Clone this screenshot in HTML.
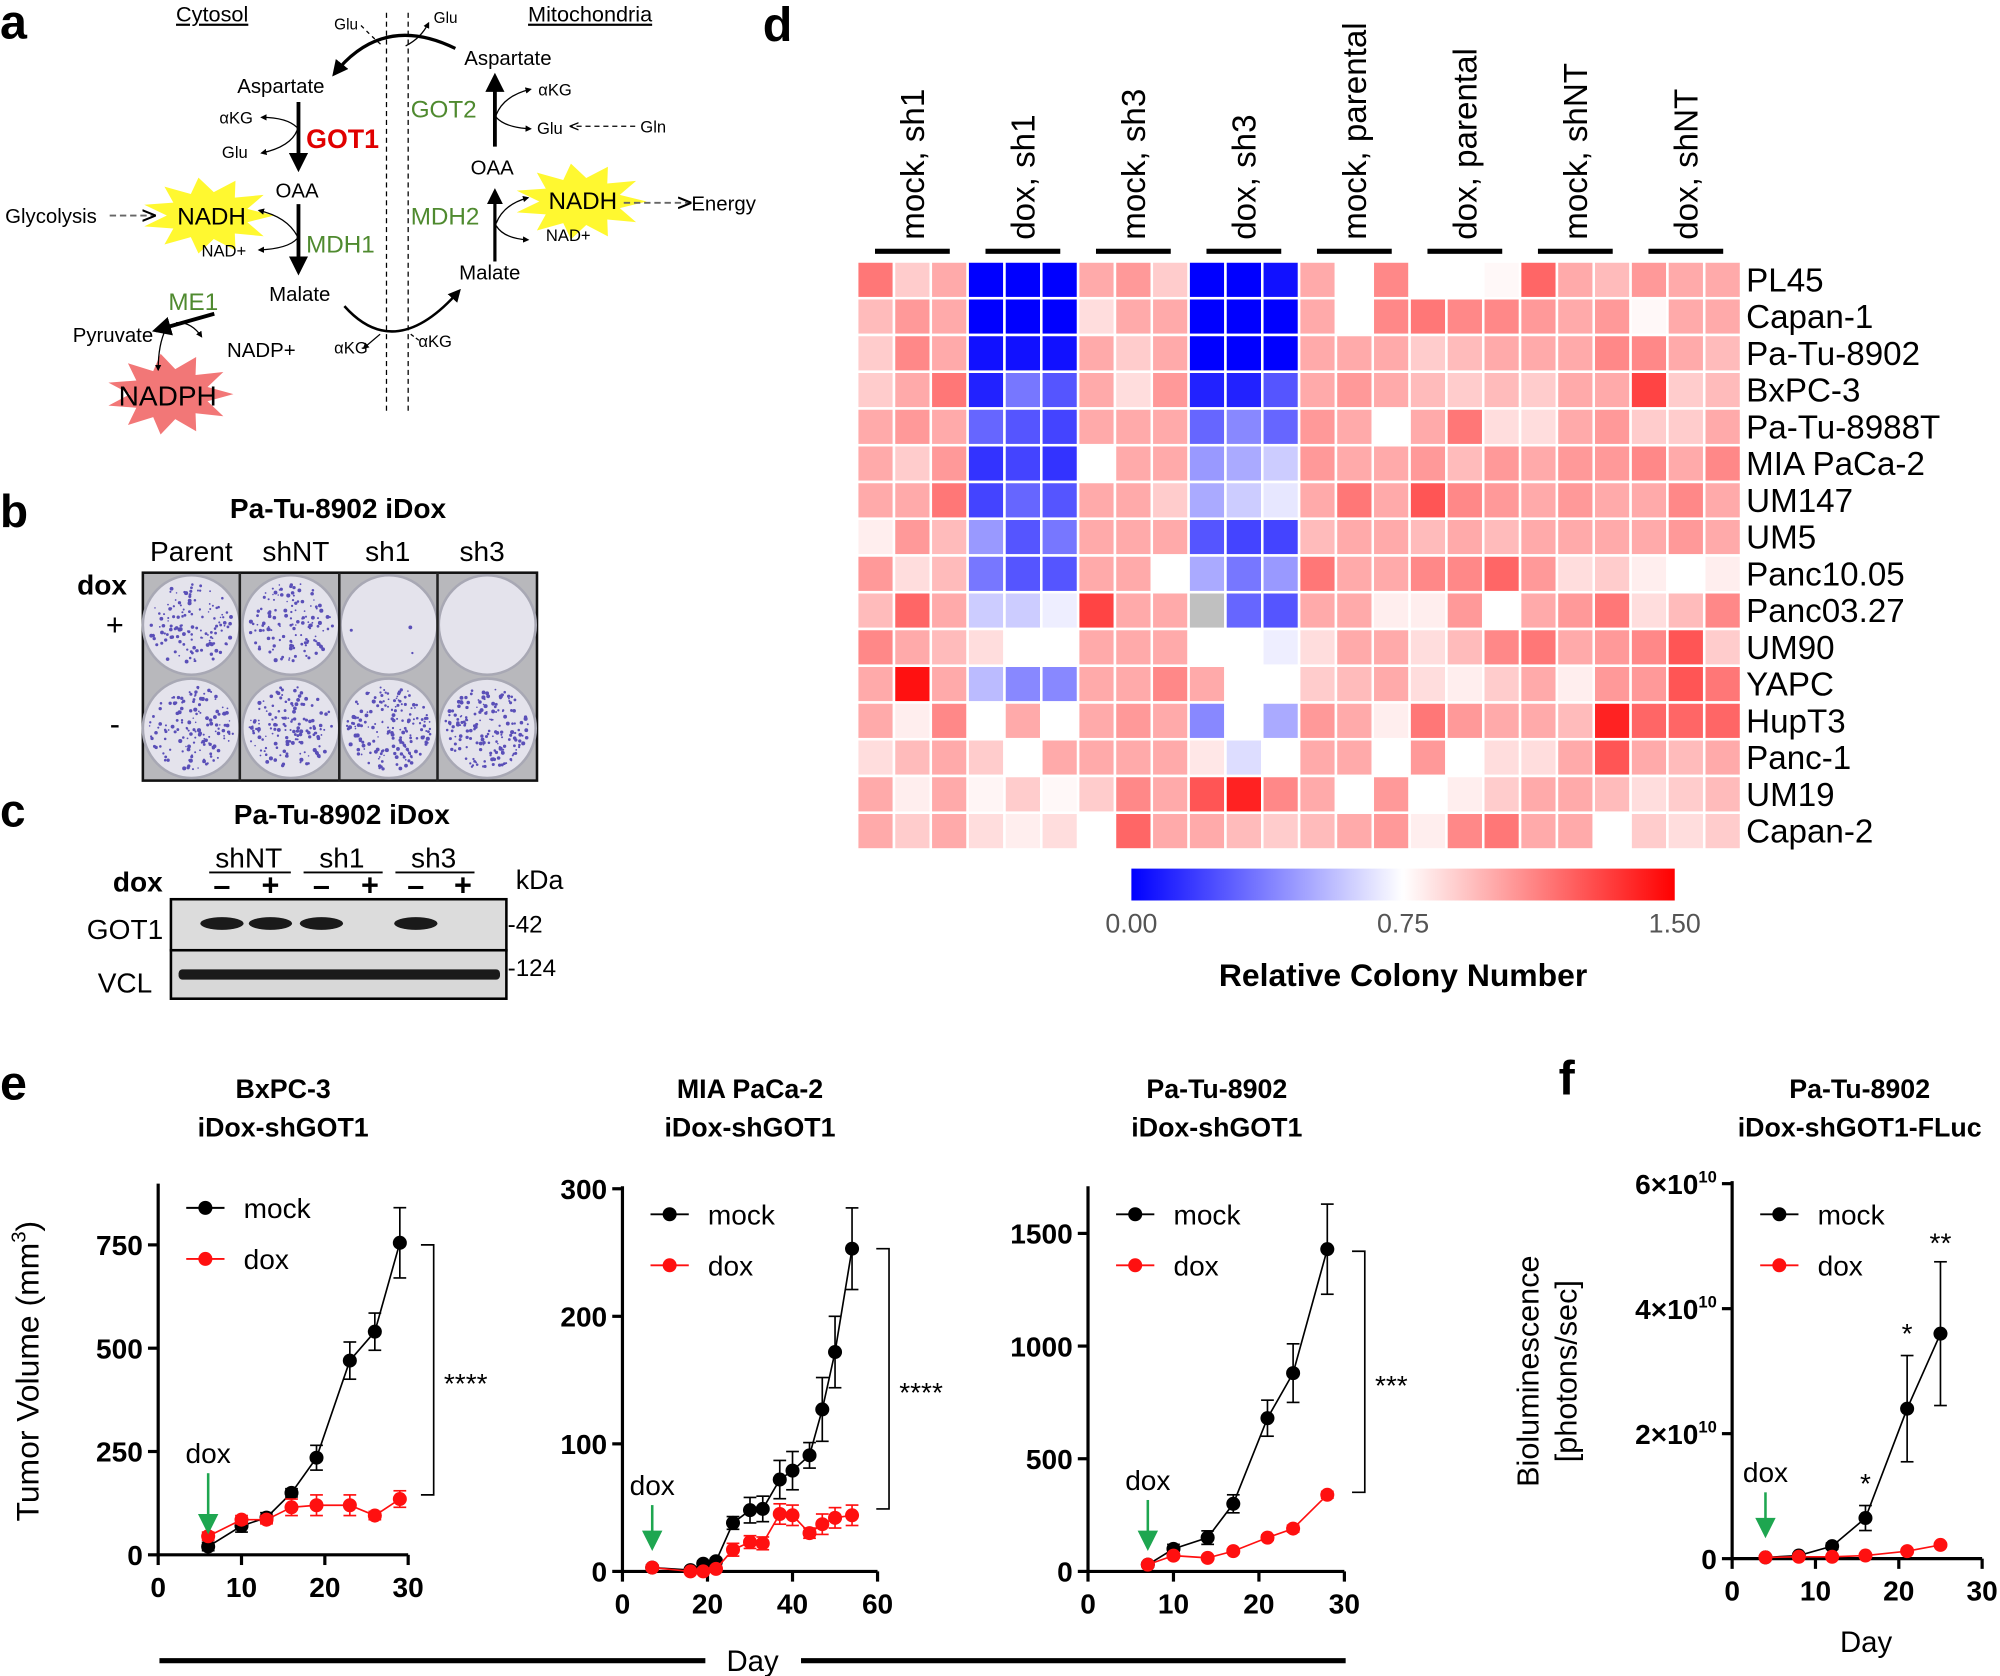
<!DOCTYPE html>
<html><head><meta charset="utf-8"><style>
html,body{margin:0;padding:0;background:#fff;}
svg{display:block;font-family:"Liberation Sans",Arial,sans-serif;}
.b{font-weight:bold;}
</style></head><body>
<svg id="fig" xmlns="http://www.w3.org/2000/svg" width="2000" height="1676" viewBox="0 0 1568 1314">
<defs>
<marker id="ah" viewBox="0 0 10 10" refX="8" refY="5" markerWidth="5" markerHeight="5" orient="auto"><path d="M0,0 L10,5 L0,10 z" fill="#000"/></marker>
<marker id="ahs" viewBox="0 0 10 10" refX="8" refY="5" markerWidth="7" markerHeight="7" orient="auto"><path d="M0,1 L10,5 L0,9" fill="none" stroke="#000" stroke-width="1.5"/></marker>
</defs>
<g id="panel-a">
<text x="0" y="30" font-size="38" class="b">a</text>
<text x="138" y="17" font-size="17" text-decoration="underline">Cytosol</text>
<text x="414" y="17" font-size="17" text-decoration="underline">Mitochondria</text>
<line x1="303" y1="10" x2="303" y2="325" stroke="#000" stroke-dasharray="4,3" stroke-width="1"/>
<line x1="320" y1="10" x2="320" y2="325" stroke="#000" stroke-dasharray="4,3" stroke-width="1"/>
<g id="stars"></g>
<path d="M357,38 Q300,10 262,58" fill="none" stroke="#000" stroke-width="2.5" marker-end="url(#ah)"/>
<path d="M283,20 Q295,32 300,36" fill="none" stroke="#000" stroke-dasharray="3,3"/>
<path d="M318,36 Q330,30 336,18" fill="none" stroke="#000" marker-end="url(#ah)"/>
<text x="262" y="23" font-size="12">Glu</text><text x="340" y="18" font-size="12">Glu</text>
<text x="364" y="51" font-size="16">Aspartate</text>
<text x="186" y="73" font-size="16">Aspartate</text>
<line x1="234" y1="80" x2="234" y2="132" stroke="#000" stroke-width="3" marker-end="url(#ah)"/>
<path d="M233,100 Q225,92 205,92" fill="none" stroke="#000" marker-end="url(#ah)"/>
<path d="M233,102 Q228,115 205,120" fill="none" stroke="#000" marker-end="url(#ah)"/>
<text x="172" y="97" font-size="13">αKG</text><text x="174" y="124" font-size="13">Glu</text>
<text x="240" y="116" font-size="21" class="b" fill="#e00000">GOT1</text>
<text x="216" y="155" font-size="16">OAA</text>
<line x1="234" y1="160" x2="234" y2="213" stroke="#000" stroke-width="3" marker-end="url(#ah)"/>
<path d="M233,185 Q225,170 203,165" fill="none" stroke="#000" marker-end="url(#ah)"/>
<path d="M233,187 Q226,195 203,196" fill="none" stroke="#000" marker-end="url(#ah)"/>
<text x="139" y="176" font-size="19">NADH</text>
<text x="158" y="201" font-size="13">NAD+</text>
<text x="240" y="198" font-size="19" fill="#4f8a2f">MDH1</text>
<text x="4" y="175" font-size="16">Glycolysis</text>
<line x1="86" y1="169" x2="120" y2="169" stroke="#666" stroke-width="1.5" stroke-dasharray="5,3" marker-end="url(#ahs)"/>
<text x="211" y="236" font-size="16">Malate</text>
<text x="132" y="243" font-size="19" fill="#4f8a2f">ME1</text>
<line x1="168" y1="246" x2="122" y2="259" stroke="#000" stroke-width="3" marker-end="url(#ah)"/>
<path d="M138,253 Q150,252 158,264" fill="none" stroke="#000" marker-end="url(#ah)"/>
<path d="M130,258 Q124,270 124,290" fill="none" stroke="#000" marker-end="url(#ah)"/>
<text x="57" y="268" font-size="16">Pyruvate</text>
<text x="178" y="280" font-size="16">NADP+</text>
<text x="93" y="318" font-size="22">NADPH</text>
<path d="M270,240 Q310,285 360,228" fill="none" stroke="#000" stroke-width="2" marker-end="url(#ah)"/>
<line x1="298" y1="262" x2="285" y2="273" stroke="#000" marker-end="url(#ah)"/>
<line x1="322" y1="262" x2="330" y2="268" stroke="#000" stroke-dasharray="3,2"/>
<text x="262" y="277" font-size="13">αKG</text><text x="328" y="272" font-size="13">αKG</text>
<text x="360" y="219" font-size="16">Malate</text>
<line x1="388" y1="205" x2="388" y2="150" stroke="#000" stroke-width="2.5" marker-end="url(#ah)"/>
<text x="369" y="137" font-size="16">OAA</text>
<line x1="388" y1="115" x2="388" y2="60" stroke="#000" stroke-width="3" marker-end="url(#ah)"/>
<text x="322" y="92" font-size="19" fill="#4f8a2f">GOT2</text>
<path d="M389,90 Q395,75 416,70" fill="none" stroke="#000" marker-end="url(#ah)"/>
<path d="M389,92 Q396,100 416,101" fill="none" stroke="#000" marker-end="url(#ah)"/>
<text x="422" y="75" font-size="13">αKG</text><text x="421" y="105" font-size="13">Glu</text>
<line x1="498" y1="99" x2="448" y2="99" stroke="#000" stroke-dasharray="4,3" marker-end="url(#ahs)"/>
<text x="502" y="104" font-size="13">Gln</text>
<text x="322" y="176" font-size="19" fill="#4f8a2f">MDH2</text>
<path d="M389,175 Q395,160 414,155" fill="none" stroke="#000" marker-end="url(#ah)"/>
<path d="M389,177 Q395,187 414,188" fill="none" stroke="#000" marker-end="url(#ah)"/>
<text x="430" y="164" font-size="19">NADH</text>
<text x="428" y="189" font-size="13">NAD+</text>
<line x1="489" y1="159" x2="540" y2="159" stroke="#666" stroke-width="1.5" stroke-dasharray="5,3" marker-end="url(#ahs)"/>
<text x="542" y="165" font-size="16">Energy</text>
</g>
<g id="panel-b">
<text x="0" y="413" font-size="36" class="b">b</text>
<text x="265" y="406" font-size="22" class="b" text-anchor="middle">Pa-Tu-8902 iDox</text>
<text x="150" y="440" font-size="22" text-anchor="middle">Parent</text>
<text x="232" y="440" font-size="22" text-anchor="middle">shNT</text>
<text x="304" y="440" font-size="22" text-anchor="middle">sh1</text>
<text x="378" y="440" font-size="22" text-anchor="middle">sh3</text>
<text x="80" y="466" font-size="22" class="b" text-anchor="middle">dox</text>
<text x="90" y="498" font-size="24" text-anchor="middle">+</text>
<text x="90" y="576" font-size="24" text-anchor="middle">-</text>
<rect x="112" y="449" width="309" height="163" fill="#b8b8bc" stroke="#111" stroke-width="2"/>
<g id="wells"></g>
</g>
<g id="panel-c">
<text x="0" y="648" font-size="36" class="b">c</text>
<text x="268" y="646" font-size="22" class="b" text-anchor="middle">Pa-Tu-8902 iDox</text>
<text x="195" y="680" font-size="22" text-anchor="middle">shNT</text>
<text x="268" y="680" font-size="22" text-anchor="middle">sh1</text>
<text x="340" y="680" font-size="22" text-anchor="middle">sh3</text>
<line x1="164" y1="684" x2="228" y2="684" stroke="#000" stroke-width="1.5"/>
<line x1="238" y1="684" x2="300" y2="684" stroke="#000" stroke-width="1.5"/>
<line x1="310" y1="684" x2="372" y2="684" stroke="#000" stroke-width="1.5"/>
<text x="108" y="699" font-size="22" class="b" text-anchor="middle">dox</text>
<g font-size="24" class="b" text-anchor="middle"><text x="174" y="702">–</text><text x="212" y="702">+</text><text x="252" y="702">–</text><text x="290" y="702">+</text><text x="326" y="702">–</text><text x="363" y="702">+</text></g>
<text x="423" y="697" font-size="21" text-anchor="middle">kDa</text>
<rect x="134" y="705" width="263" height="40" fill="#dcdcdc" stroke="#000" stroke-width="2"/>
<rect x="134" y="745" width="263" height="38" fill="#d8d8d8" stroke="#000" stroke-width="2"/>
<g fill="#1a1a1a"><ellipse cx="174" cy="724" rx="17" ry="5"/><ellipse cx="212" cy="724" rx="17" ry="5"/><ellipse cx="252" cy="724" rx="17" ry="5"/><ellipse cx="326" cy="724" rx="17" ry="5"/>
<rect x="140" y="760" width="252" height="8" rx="3"/></g>
<text x="98" y="736" font-size="22" text-anchor="middle">GOT1</text>
<text x="98" y="778" font-size="22" text-anchor="middle">VCL</text>
<text x="398" y="731" font-size="19">-42</text>
<text x="398" y="765" font-size="19">-124</text>
</g>
<g id="panel-d">
<text x="598" y="32" font-size="38" class="b">d</text>
<g id="heatmap"></g>
<defs><linearGradient id="cbg" x1="0" x2="1"><stop offset="0" stop-color="#0000ff"/><stop offset="0.5" stop-color="#ffffff"/><stop offset="1" stop-color="#ff0000"/></linearGradient></defs>
<rect x="887" y="681" width="426" height="25" fill="url(#cbg)"/>
<text x="887" y="731" font-size="21" fill="#555" text-anchor="middle">0.00</text>
<text x="1100" y="731" font-size="21" fill="#555" text-anchor="middle">0.75</text>
<text x="1313" y="731" font-size="21" fill="#555" text-anchor="middle">1.50</text>
<text x="1100" y="773" font-size="25" class="b" text-anchor="middle">Relative Colony Number</text>
</g>
<text x="0" y="862" font-size="38" class="b">e</text>
<text x="1222" y="858" font-size="38" class="b">f</text>
<g id="plots"></g>
<text x="30" y="1075" font-size="25" text-anchor="middle" transform="rotate(-90 30 1075)">Tumor Volume (mm<tspan dy="-10" font-size="16">3</tspan><tspan dy="10">)</tspan></text>
<text x="1206" y="1075" font-size="24" text-anchor="middle" transform="rotate(-90 1206 1075)">Bioluminescence</text>
<text x="1236" y="1075" font-size="24" text-anchor="middle" transform="rotate(-90 1236 1075)">[photons/sec]</text>
<line x1="125" y1="1302" x2="553" y2="1302" stroke="#000" stroke-width="4"/>
<line x1="628" y1="1302" x2="1055" y2="1302" stroke="#000" stroke-width="4"/>
<text x="590" y="1310" font-size="23" text-anchor="middle">Day</text>
<text x="1463" y="1295" font-size="23" text-anchor="middle">Day</text>
</svg>
<script>
const hmRows=["PL45","Capan-1","Pa-Tu-8902","BxPC-3","Pa-Tu-8988T","MIA PaCa-2","UM147","UM5","Panc10.05","Panc03.27","UM90","YAPC","HupT3","Panc-1","UM19","Capan-2"];
const hmGroups=["mock, sh1","dox, sh1","mock, sh3","dox, sh3","mock, parental","dox, parental","mock, shNT","dox, shNT"];
const hmValues=[
[1.15,0.9,1.0,0,0,0,1.0,1.05,0.9,0,0,0.05,1.0,0.75,1.1,0.75,0.75,0.77,1.2,1.0,0.95,1.05,1.0,1.0],
[0.95,1.05,1.0,0,0,0,0.85,1.0,1.0,0,0,0,1.0,0.75,1.1,1.15,1.1,1.1,1.05,1.0,1.05,0.77,1.0,1.0],
[0.9,1.1,1.0,0.05,0.05,0.05,1.0,0.9,1.0,0,0,0,1.0,1.0,1.0,0.9,0.95,1.0,1.0,1.0,1.1,1.1,1.0,0.95],
[0.9,1.0,1.15,0.1,0.35,0.25,1.0,0.85,1.05,0.1,0.1,0.25,1.0,1.05,1.0,0.95,0.9,0.95,0.9,1.0,1.0,1.3,0.9,0.95],
[1.0,1.05,1.0,0.3,0.25,0.2,1.0,1.0,1.0,0.3,0.4,0.3,1.05,1.0,0.75,1.0,1.15,0.85,0.85,1.0,1.05,0.9,0.9,1.0],
[1.0,0.9,1.05,0.15,0.2,0.15,0.75,1.0,1.0,0.45,0.5,0.6,1.05,1.0,1.0,1.05,0.95,1.05,1.0,1.05,1.05,1.1,1.0,1.1],
[1.0,1.0,1.15,0.2,0.3,0.25,1.0,1.0,0.9,0.5,0.6,0.68,1.0,1.15,1.0,1.25,1.1,1.05,1.0,1.05,1.0,1.0,1.1,1.0],
[0.8,1.05,0.95,0.45,0.25,0.35,1.0,1.0,1.0,0.25,0.2,0.2,0.95,1.0,1.0,0.95,1.0,0.95,1.0,1.0,1.0,1.0,1.05,1.0],
[1.05,0.85,0.95,0.35,0.25,0.25,1.0,1.0,0.75,0.5,0.35,0.45,1.15,1.0,1.0,1.1,1.1,1.2,1.05,0.85,0.9,0.8,0.75,0.8],
[0.95,1.2,1.0,0.6,0.6,0.7,1.3,1.0,1.0,null,0.3,0.25,1.0,1.0,0.8,0.8,1.05,0.75,1.0,1.05,1.15,0.85,0.95,1.1],
[1.1,1.0,0.95,0.85,0.75,0.75,1.0,1.0,1.0,0.75,0.75,0.7,0.85,1.0,1.0,0.85,0.95,1.1,1.15,1.0,1.05,1.1,1.25,0.9],
[1.0,1.45,1.0,0.55,0.4,0.4,1.0,1.0,1.1,1.0,0.75,0.75,0.9,0.95,1.0,0.85,0.8,0.9,1.0,0.8,1.05,1.05,1.25,1.15],
[1.0,0.8,1.1,0.75,1.0,0.75,1.0,1.05,1.0,0.4,0.75,0.5,1.05,1.0,0.8,1.15,1.05,1.0,1.0,0.95,1.4,1.2,1.2,1.2],
[0.85,0.95,1.0,0.9,0.75,1.0,1.0,1.0,1.0,0.82,0.65,0.75,1.0,1.0,0.75,1.05,0.75,0.85,0.85,1.0,1.25,1.0,0.95,1.0],
[1.0,0.8,1.0,0.78,0.9,0.77,0.9,1.1,1.0,1.25,1.4,1.1,1.0,0.75,1.05,0.75,0.8,0.9,1.0,1.0,0.95,0.85,0.9,0.95],
[1.0,0.9,1.0,0.85,0.8,0.85,0.75,1.2,1.0,1.0,0.95,0.9,0.95,1.0,1.05,0.8,1.1,1.15,1.0,1.0,0.75,0.9,0.85,0.9]];
const p1Days=[6,10,13,16,19,23,26,29];
const p1Mock=[20,70,90,150,235,470,540,755];
const p1MockErr=[10,15,12,10,30,45,45,85];
const p1Dox=[45,85,85,115,120,120,95,135];
const p1DoxErr=[10,10,10,20,25,25,10,20];
const p2Days=[7,16,19,22,26,30,33,37,40,44,47,50,54];
const p2Mock=[3,1,6,8,38,48,49,72,79,91,127,172,253];
const p2MockErr=[2,2,2,2,5,10,10,15,15,10,25,28,32];
const p2Dox=[3,0,0,2,17,23,22,45,44,30,37,42,44];
const p2DoxErr=[2,1,1,2,5,5,5,8,8,4,8,8,8];
const p3Days=[7,10,14,17,21,24,28];
const p3Mock=[30,100,150,300,680,880,1430];
const p3MockErr=[10,20,30,40,80,130,200];
const p3Dox=[30,70,60,90,150,190,340];
const p3DoxErr=[5,8,8,10,12,15,15];
const pfDays=[4,8,12,16,21,25];
const pfMock=[0.02,0.05,0.2,0.65,2.4,3.6];
const pfMockErr=[0.01,0.02,0.05,0.2,0.85,1.15];
const pfDox=[0.02,0.03,0.03,0.05,0.12,0.22];
const pfDoxErr=[0.005,0.005,0.01,0.01,0.02,0.03];
const p1YTicks=[0,250,500,750], p2YTicks=[0,100,200,300], p3YTicks=[0,500,1000,1500], pfYTicks=[0,2,4,6];
const p1XTicks=[0,10,20,30], p2XTicks=[0,20,40,60], p3XTicks=[0,10,20,30], pfXTicks=[0,10,20,30];

const NS="http://www.w3.org/2000/svg";
function mk(tag,attrs,parent){const e=document.createElementNS(NS,tag);for(const k in attrs)e.setAttribute(k,attrs[k]);parent.appendChild(e);return e;}

(function(){
 const g=document.getElementById('stars');
 function star(cx,cy,rx,ry,n,fill){let pts=[];for(let i=0;i<2*n;i++){const a=Math.PI*i/n;const f=i%2?0.62:1;pts.push((cx+rx*f*Math.cos(a)).toFixed(1)+','+(cy+ry*f*Math.sin(a)).toFixed(1));}
  const p=mk('polygon',{points:pts.join(' '),fill:fill},g);
  
  }
 star(163,169,52,30,11,'#fff830');star(455,158,52,30,11,'#fff830');star(133,309,50,32,11,'#f27777');
})();
(function(){
 const g=document.getElementById('wells');let s=7;function rnd(){s=(s*9301+49297)%233280;return s/233280;}
 const cx=[150,228,305,382], cy=[490,571];
 const dens=[[45,45,1,0],[50,50,60,60]];
 for(let r=0;r<2;r++)for(let c=0;c<4;c++){
  const w=mk('ellipse',{cx:cx[c],cy:cy[r],rx:38,ry:39,fill:'#e4e3ec',stroke:'#a8a8b4','stroke-width':2},g);
  
  
  for(let i=0;i<dens[r][c]*3;i++){const a=rnd()*6.283,rr=Math.sqrt(rnd())*33;
   mk('circle',{cx:(cx[c]+rr*Math.cos(a)).toFixed(1),cy:(cy[r]+rr*Math.sin(a)).toFixed(1),r:(0.6+rnd()*1.0).toFixed(1),fill:'#5a4fb8'},g);}
 }
 for(const x of [188,266,343]) mk('line',{x1:x,y1:449,x2:x,y2:612,stroke:'#222','stroke-width':2},g);
})();
(function(){
 const g=document.getElementById('heatmap');
 const x0=672,y0=205,W=693,H=461,cw=W/24,ch=H/16;
 function col(v){if(v===null)return '#c0c0c0';v=Math.max(0,Math.min(1.5,v));
  if(v<0.75){const t=v/0.75;const c=Math.round(255*t);return `rgb(${c},${c},255)`;}
  const t=(v-0.75)/0.75;const c=Math.round(255*(1-t));return `rgb(255,${c},${c})`;}
 hmValues.forEach((row,r)=>row.forEach((v,c)=>{
  const e=mk('rect',{x:x0+c*cw,y:y0+r*ch,width:cw,height:ch,fill:col(v),stroke:'#fff','stroke-width':2},g);
  
  
 }));
 hmRows.forEach((n,r)=>{const t=mk('text',{x:1369,y:y0+r*ch+ch/2+9,'font-size':26},g);t.textContent=n;
  
  });
 hmGroups.forEach((n,i)=>{const gx=x0+i*3*cw;
  mk('rect',{x:gx+14,y:195,width:3*cw-28,height:4,fill:'#000'},g);
  const cx=gx+1.5*cw+9;
  const t=mk('text',{x:cx,y:188,'font-size':26,transform:`rotate(-90 ${cx} 188)`},g);t.textContent=n;
  
  });
})();
function plot(o){
 const g=mk('g',{},document.getElementById('plots'));
 
 
 const sx=v=>o.x0+(v-o.xmin)/(o.xmax-o.xmin)*(o.x1-o.x0);
 const sy=v=>o.y0-(v-o.ymin)/(o.ymax-o.ymin)*(o.y0-o.y1);
 mk('line',{x1:o.x0,y1:o.ytop,x2:o.x0,y2:o.y0,stroke:'#000','stroke-width':2.5},g);
 mk('line',{x1:o.x0,y1:o.y0,x2:o.x1,y2:o.y0,stroke:'#000','stroke-width':2.5},g);
 o.yt.forEach((v,i)=>{mk('line',{x1:o.x0-8,y1:sy(v),x2:o.x0,y2:sy(v),stroke:'#000','stroke-width':2.5},g);
  const t=mk('text',{x:o.x0-12,y:sy(v)+8,'font-size':22,'font-weight':'bold','text-anchor':'end'},g);
  if(o.sci&&v!==0){t.textContent=v+'×10';const s=mk('tspan',{dy:-9,'font-size':13},t);s.textContent='10';}else t.textContent=v;});
 o.xt.forEach(v=>{mk('line',{x1:sx(v),y1:o.y0,x2:sx(v),y2:o.y0+8,stroke:'#000','stroke-width':2.5},g);
  const t=mk('text',{x:sx(v),y:o.y0+33,'font-size':22,'font-weight':'bold','text-anchor':'middle'},g);t.textContent=v;});
 function series(ys,es,color,nm){
  const sg=mk('g',{},g);
  
  
  mk('polyline',{points:o.days.map((d,i)=>sx(d)+','+sy(ys[i])).join(' '),fill:'none',stroke:color,'stroke-width':1.3},sg);
  o.days.forEach((d,i)=>{const x=sx(d),a=sy(ys[i]+es[i]),b=sy(Math.max(0,ys[i]-es[i]));
   mk('line',{x1:x,y1:a,x2:x,y2:b,stroke:color,'stroke-width':1.3},sg);
   mk('line',{x1:x-5,y1:a,x2:x+5,y2:a,stroke:color,'stroke-width':1.3},sg);
   mk('line',{x1:x-5,y1:b,x2:x+5,y2:b,stroke:color,'stroke-width':1.3},sg);
   const c=mk('circle',{cx:x,cy:sy(ys[i]),r:5.5,fill:color},sg);
   
   });
 }
 series(o.mock,o.mockE,'#000','mock-series');
 series(o.dox,o.doxE,'#ff1010','dox-series');
 const lx=o.x0+22;
 [['mock','#000',o.legY],['dox','#ff1010',o.legY+40]].forEach(([n,c,y])=>{
  mk('line',{x1:lx,y1:y,x2:lx+30,y2:y,stroke:c,'stroke-width':1.5},g);
  mk('circle',{cx:lx+15,cy:y,r:5.5,fill:c},g);
  const t=mk('text',{x:lx+45,y:y+8,'font-size':22},g);t.textContent=n;
  
  });
 o.title.forEach((s,i)=>{const t=mk('text',{x:o.tx,y:861+i*30,'font-size':21,'font-weight':'bold','text-anchor':'middle'},g);t.textContent=s;});
 const ax=sx(o.doxDay);
 const t=mk('text',{x:ax,y:o.arY-8,'font-size':22,'text-anchor':'middle'},g);t.textContent='dox';
 mk('line',{x1:ax,y1:o.arY,x2:ax,y2:o.y0-30,stroke:'#1ea650','stroke-width':2},g);
 mk('polygon',{points:`${ax-8},${o.y0-32} ${ax+8},${o.y0-32} ${ax},${o.y0-16}`,fill:'#1ea650'},g);
 if(o.br){mk('polyline',{points:`${o.br[0]-10},${o.br[1]} ${o.br[0]},${o.br[1]} ${o.br[0]},${o.br[2]} ${o.br[0]-10},${o.br[2]}`,fill:'none',stroke:'#000','stroke-width':1.3},g);
  const s=mk('text',{x:o.br[0]+8,y:(o.br[1]+o.br[2])/2+18,'font-size':22},g);s.textContent=o.stars;}
 (o.marks||[]).forEach(m=>{const s=mk('text',{x:sx(m[0]),y:sy(m[1]),'font-size':22,'text-anchor':'middle'},g);s.textContent=m[2];});
}
plot({name:'bxpc3-plot',x0:124,x1:320,xmin:0,xmax:30,y0:1219,y1:976,ymin:0,ymax:750,ytop:928,yt:p1YTicks,xt:p1XTicks,days:p1Days,mock:p1Mock,mockE:p1MockErr,dox:p1Dox,doxE:p1DoxErr,legY:947,title:['BxPC-3','iDox-shGOT1'],tx:222,doxDay:6,arY:1155,br:[340,976,1172],stars:'****'});
plot({name:'miapaca2-plot',x0:488,x1:688,xmin:0,xmax:60,y0:1232,y1:932,ymin:0,ymax:300,ytop:930,yt:p2YTicks,xt:p2XTicks,days:p2Days,mock:p2Mock,mockE:p2MockErr,dox:p2Dox,doxE:p2DoxErr,legY:952,title:['MIA PaCa-2','iDox-shGOT1'],tx:588,doxDay:7,arY:1180,br:[697,979,1183],stars:'****'});
plot({name:'patu8902-plot',x0:853,x1:1054,xmin:0,xmax:30,y0:1232,y1:967,ymin:0,ymax:1500,ytop:930,yt:p3YTicks,xt:p3XTicks,days:p3Days,mock:p3Mock,mockE:p3MockErr,dox:p3Dox,doxE:p3DoxErr,legY:952,title:['Pa-Tu-8902','iDox-shGOT1'],tx:954,doxDay:7,arY:1176,br:[1070,981,1170],stars:'***'});
plot({name:'bioluminescence-plot',sci:true,x0:1358,x1:1554,xmin:0,xmax:30,y0:1222,y1:928,ymin:0,ymax:6,ytop:926,yt:pfYTicks,xt:pfXTicks,days:pfDays,mock:pfMock,mockE:pfMockErr,dox:pfDox,doxE:pfDoxErr,legY:952,title:['Pa-Tu-8902','iDox-shGOT1-FLuc'],tx:1458,doxDay:4,arY:1170,marks:[[16,1.05,'*'],[21,3.45,'*'],[25,4.9,'**']]});
</script>
</body></html>
